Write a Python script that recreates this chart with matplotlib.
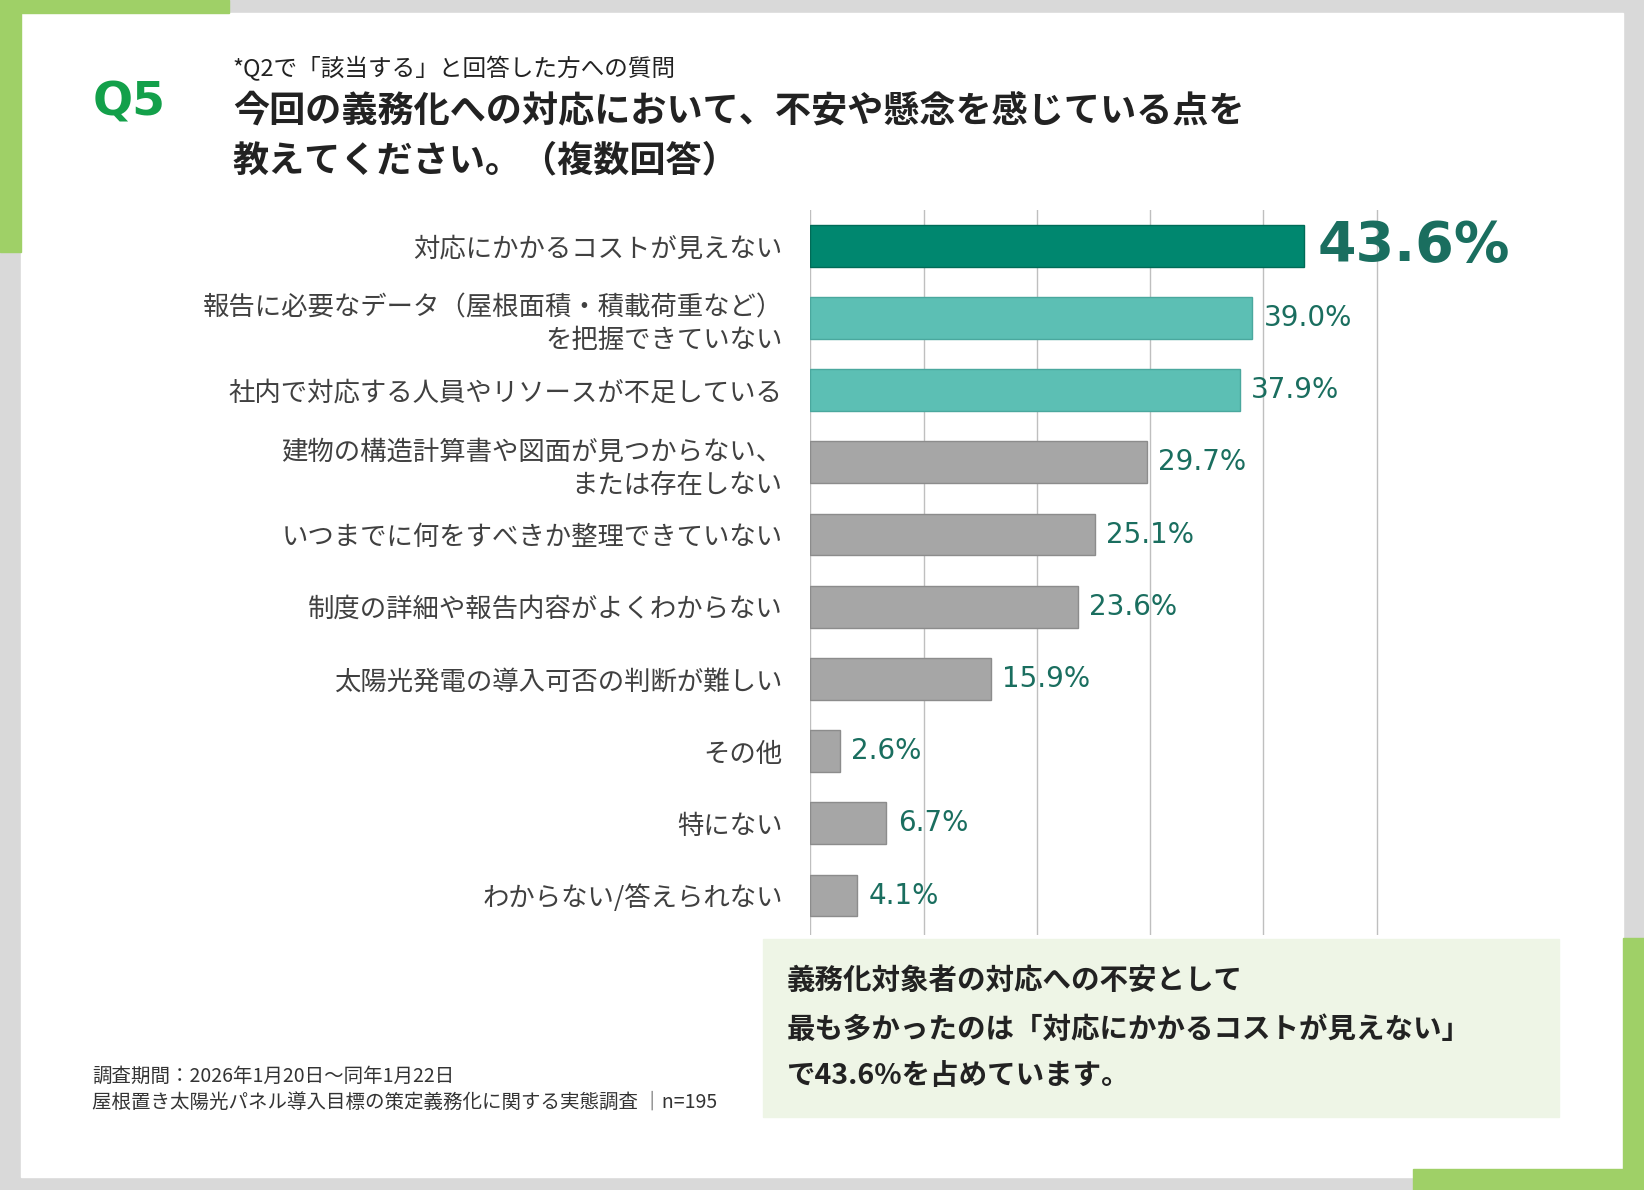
import matplotlib.pyplot as plt
from matplotlib.patches import Rectangle

plt.rcParams['font.family'] = ['Noto Sans CJK JP', 'DejaVu Sans']

categories = ['対応にかかるコストが見えない',
              '報告に必要なデータ（屋根面積・積載荷重など）\nを把握できていない',
              '社内で対応する人員やリソースが不足している',
              '建物の構造計算書や図面が見つからない、\nまたは存在しない',
              'いつまでに何をすべきか整理できていない',
              '制度の詳細や報告内容がよくわからない',
              '太陽光発電の導入可否の判断が難しい',
              'その他',
              '特にない',
              'わからない/答えられない']
values = [43.6, 39.0, 37.9, 29.7, 25.1, 23.6, 15.9, 2.6, 6.7, 4.1]
colors = ['#00876f', '#5cbfb4', '#5cbfb4'] + ['#a6a6a6'] * 7

W, H = 1568, 1135
fig = plt.figure(figsize=(16.44, 11.90), dpi=100)

def fx(x): return x / W
def fy(y): return 1 - y / H

# frame
fig.patches.append(Rectangle((0, 0), 1, 1, transform=fig.transFigure, color='#d9d9d9', zorder=-3))
fig.patches.append(Rectangle((fx(20), fy(1123)), fx(1528), fy(12) - fy(1123), transform=fig.transFigure, color='white', zorder=-2))
fig.patches.append(Rectangle((0, fy(12)), fx(218), 1 - fy(12), transform=fig.transFigure, color='#9fd067', zorder=-1))
fig.patches.append(Rectangle((0, fy(240)), fx(20), 1 - fy(240), transform=fig.transFigure, color='#9fd067', zorder=-1))
fig.patches.append(Rectangle((fx(1348), 0), fx(220), fy(1115), transform=fig.transFigure, color='#9fd067', zorder=-1))
fig.patches.append(Rectangle((fx(1548), 0), fx(20), fy(895), transform=fig.transFigure, color='#9fd067', zorder=-1))

# titles
fig.text(fx(88), fy(98), 'Q5', fontsize=34, fontweight='bold', color='#13a04a', va='center', family=['DejaVu Sans'])
fig.text(fx(222), fy(65), '*Q2で「該当する」と回答した方への質問', fontsize=17, color='#222222', va='center')
fig.text(fx(222), fy(106), '今回の義務化への対応において、不安や懸念を感じている点を', fontsize=26, fontweight='bold', color='#222222', va='center')
fig.text(fx(222), fy(153), '教えてください。（複数回答）', fontsize=26, fontweight='bold', color='#222222', va='center')

ax = fig.add_axes([fx(773), fy(892), fx(1421) - fx(773), fy(200) - fy(892)])
y = list(range(len(values)))
ax.barh(y, values, height=0.58, color=colors, edgecolor=['#006b57'] + ['#4aa89e'] * 2 + ['#8c8c8c'] * 7, linewidth=1, zorder=3)
ax.set_ylim(9.55, -0.5)
ax.set_xlim(0, 60)
for gx in range(0, 60, 10):
    ax.axvline(gx, color='#bfbfbf', lw=1, zorder=1)
ax.set_yticks(y)
ax.set_yticklabels(categories, fontsize=19, color='#404040', linespacing=1.3)
ax.tick_params(axis='y', length=0, pad=20)
ax.set_xticks([])
for s in ax.spines.values():
    s.set_visible(False)
for i, v in enumerate(values):
    if i == 0:
        ax.text(v + 1.2, i, f'{v}%', fontsize=40, fontweight='bold', color='#1a6e5f', va='center', family=['DejaVu Sans'])
    else:
        ax.text(v + 1.0, i, f'{v}%', fontsize=20, color='#1a6e5f', va='center', family=['DejaVu Sans'])

# summary box
fig.patches.append(Rectangle((fx(728), fy(1065)), fx(1487) - fx(728), fy(896) - fy(1065), transform=fig.transFigure, color='#eef5e6', zorder=0))
fig.text(fx(750), fy(936), '義務化対象者の対応への不安として', fontsize=20.5, fontweight='bold', color='#222222', va='center')
fig.text(fx(750), fy(982), '最も多かったのは「対応にかかるコストが見えない」', fontsize=20.5, fontweight='bold', color='#222222', va='center')
fig.text(fx(750), fy(1026), 'で43.6%を占めています。', fontsize=20.5, fontweight='bold', color='#222222', va='center')

fig.text(fx(88), fy(1027), '調査期間：2026年1月20日～同年1月22日', fontsize=14, color='#333333', va='center')
fig.text(fx(88), fy(1051), '屋根置き太陽光パネル導入目標の策定義務化に関する実態調査 │n=195', fontsize=14, color='#333333', va='center')

fig.savefig('out.png', dpi=100)
